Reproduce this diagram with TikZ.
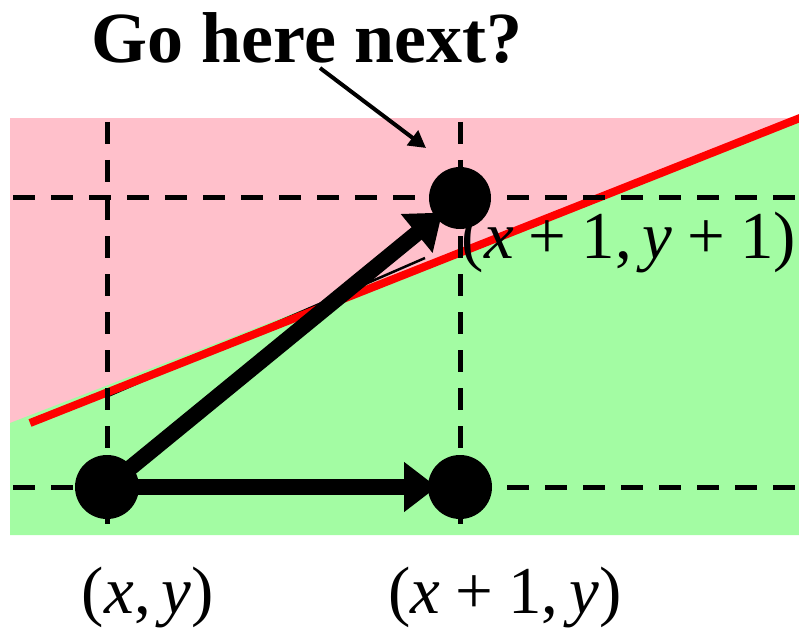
\documentclass[tikz,border=0pt]{standalone}
\usepackage{fontspec}
\setmainfont{Liberation Serif}
\usetikzlibrary{arrows.meta}
\definecolor{bgpink}{RGB}{255,192,203}
\definecolor{bggreen}{RGB}{163,252,163}
\newcommand{\mpl}{\hspace{0.222em}+\hspace{0.222em}}
\newcommand{\mcm}{,\hspace{0.167em}}
\begin{document}
\begin{tikzpicture}[x=1pt,y=-1pt,
  dashline/.style={line width=5pt, dash pattern=on 22pt off 16pt},
  bigarrow/.style={line width=16pt, -{Triangle[length=33pt,width=48pt]}, shorten >=23pt},
  lbl/.style={font=\fontsize{67}{80}\selectfont, inner sep=0pt, anchor=base},
  dotfill/.style={fill=black},
]
\useasboundingbox (0,0) rectangle (799,628);
% background regions
\fill[bgpink] (10,118) rectangle (799,535);
\fill[bggreen] (10,423) -- (799,118) -- (799,535) -- (10,535) -- cycle;
% thin black line and red line
\coordinate (k1) at (108,396);
\coordinate (k2) at (425,258);
\draw[line width=2.5pt] (k1) -- (k2);
\coordinate (r1) at (30,423);
\coordinate (r2) at (805,116);
\draw[red, line width=8pt] (r1) -- (r2);
% dashed grid
\coordinate (v1t) at (107,122); \coordinate (v1b) at (107,525);
\coordinate (v2t) at (460,122); \coordinate (v2b) at (460,525);
\coordinate (h1l) at (13,198);  \coordinate (h1r) at (799,198);
\coordinate (h2l) at (13,487);  \coordinate (h2r) at (799,487);
\draw[dashline] (v1t) -- (v1b);
\draw[dashline] (v2t) -- (v2b);
\draw[dashline] (h1l) -- (h1r);
\draw[dashline] (h2l) -- (h2r);
% points
\coordinate (a) at (107,487);
\coordinate (b) at (460,487);
\coordinate (c) at (460,198);
\draw[bigarrow] (a) -- (b);
\draw[bigarrow] (a) -- (c);
\fill[dotfill] (a) circle (32);
\fill[dotfill] (b) circle (32);
\fill[dotfill] (c) circle (31);
% labels
\node[lbl] (la) at (148,613) {(\textit{x}\mcm\textit{y})};
\node[lbl] (lb) at (505,613) {(\textit{x}\mpl1\mcm\textit{y})};
\node[lbl] (lc) at (629,258) {(\textit{x}\mpl1\mcm\textit{y}\mpl1)};
% question
\node[font=\bfseries\fontsize{72}{86}\selectfont, inner sep=0pt, anchor=base] (q) at (307,63) {Go here next?};
\coordinate (qs) at (320,68);
\coordinate (qt) at (426,148);
\draw[line width=4pt, -{Triangle[length=17pt,width=18pt]}] (qs) -- (qt);
\end{tikzpicture}
\end{document}
